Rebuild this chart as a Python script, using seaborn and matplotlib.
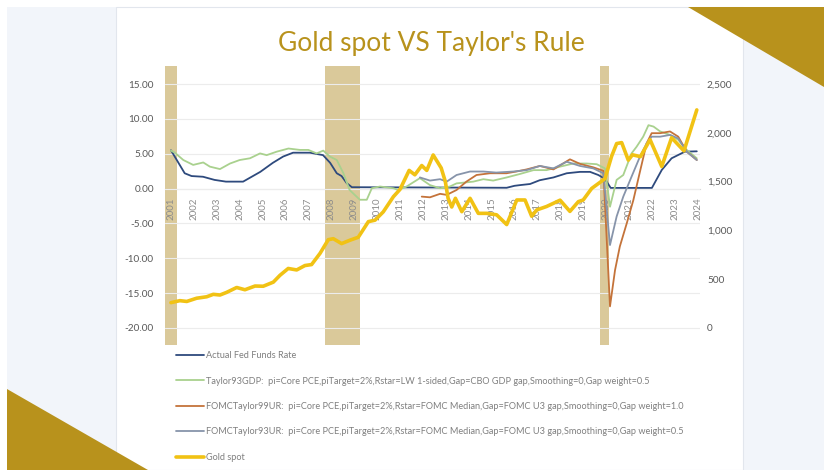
import numpy as np
import pandas as pd
import matplotlib
matplotlib.use("Agg")
import matplotlib.pyplot as plt
import seaborn as sns
from matplotlib.patches import Rectangle, Polygon
from matplotlib.lines import Line2D

# ---------------- data ----------------
fed_years = [2001.0, 2001.6, 2001.9, 2002.4, 2002.9, 2003.4, 2004.15, 2004.9, 2005.45, 2005.9,
             2006.33, 2007.07, 2007.64, 2007.95, 2008.24, 2008.45, 2008.67, 2008.9, 2015.66,
             2016.0, 2016.24, 2016.68, 2017.1, 2017.7, 2018.28, 2018.86, 2019.3, 2019.66,
             2019.95, 2020.2, 2022.0, 2022.43, 2022.86, 2023.44, 2023.96]
fed_rate = [5.5, 2.2, 1.8, 1.7, 1.25, 1.0, 1.0, 2.4, 3.7, 4.6,
            5.15, 5.15, 4.8, 3.7, 2.2, 1.8, 0.8, 0.2, 0.12,
            0.4, 0.5, 0.66, 1.2, 1.6, 2.2, 2.4, 2.4, 1.95,
            1.4, 0.1, 0.1, 2.67, 4.35, 5.3, 5.35]

gdp_years = [2001.0, 2001.17, 2001.54, 2001.97, 2002.41, 2002.7, 2003.14, 2003.58, 2004.0, 2004.45,
             2004.89, 2005.18, 2005.62, 2006.13, 2006.63, 2007.0, 2007.36, 2007.65, 2007.94, 2008.24,
             2008.53, 2008.8, 2009.25, 2009.55, 2009.77, 2010.13, 2010.71, 2010.93, 2011.29, 2011.87,
             2012.31, 2012.75, 2013.18, 2013.47, 2014.2, 2014.64, 2015.07, 2015.66, 2016.24, 2016.83,
             2017.4, 2017.99, 2018.57, 2019.15, 2019.59, 2019.95, 2020.17, 2020.46, 2020.75, 2021.11,
             2021.33, 2021.62, 2021.85, 2022.07, 2022.36, 2022.79, 2023.15, 2023.52, 2023.96]
taylor93gdp = [5.45, 5.15, 4.1, 3.4, 3.75, 3.15, 2.8, 3.6, 4.1, 4.35,
               5.05, 4.8, 5.3, 5.75, 5.55, 5.55, 5.05, 5.45, 4.6, 4.1,
               2.2, -0.2, -1.6, -1.6, 0.05, 0.3, 0.05, -0.2, 0.3, 1.5,
               0.5, 0.05, 0.3, 0.75, 1.0, 1.35, 1.15, 1.6, 2.1, 2.65,
               2.65, 3.15, 3.6, 3.6, 3.5, 2.9, -2.6, 1.25, 1.95, 5.05,
               6.0, 7.45, 9.1, 8.9, 8.2, 7.7, 7.0, 5.55, 4.35]

ur99_years = [2011.95, 2012.31, 2012.75, 2013.04, 2013.47, 2013.9, 2014.34, 2014.93, 2015.65, 2016.08,
              2016.53, 2017.11, 2017.7, 2018.42, 2018.86, 2019.44, 2019.88, 2020.17, 2020.39, 2020.6,
              2020.9, 2021.19, 2021.48, 2021.77, 2021.99, 2022.36, 2022.79, 2023.15, 2023.52, 2023.96]
fomc_taylor99ur = [-1.15, -1.25, -0.75, -0.9, -0.2, 1.0, 1.95, 2.2, 2.2, 2.45,
                   2.75, 3.25, 2.75, 4.2, 3.55, 3.05, 2.55, -16.9, -11.7, -8.3,
                   -5.0, -1.65, 2.45, 6.5, 7.95, 7.95, 8.2, 7.45, 5.3, 4.1]

ur93_years = [2011.87, 2012.31, 2012.75, 2013.04, 2013.47, 2014.06, 2014.64, 2015.2, 2015.95, 2016.53,
              2017.11, 2017.7, 2018.28, 2018.86, 2019.44, 2019.88, 2020.17, 2020.46, 2020.75, 2021.11,
              2021.48, 2021.77, 2021.99, 2022.36, 2022.79, 2023.15, 2023.52, 2023.96]
fomc_taylor93ur = [1.6, 1.15, 1.35, 1.0, 1.95, 2.45, 2.45, 2.3, 2.45, 2.65,
                   3.25, 2.9, 3.85, 3.25, 2.9, 2.2, -8.1, -4.0, -1.15, 1.7,
                   4.6, 6.5, 7.45, 7.45, 7.7, 7.2, 5.3, 4.1]

gold_years = [2001.0, 2001.39, 2001.69, 2002.12, 2002.56, 2002.85, 2003.14, 2003.43, 2003.87, 2004.23,
              2004.67, 2005.03, 2005.47, 2005.76, 2006.12, 2006.49, 2006.85, 2007.14, 2007.51, 2007.87,
              2008.09, 2008.45, 2008.82, 2009.18, 2009.62, 2009.91, 2010.27, 2010.71, 2011.0, 2011.4,
              2011.65, 2011.95, 2012.17, 2012.45, 2012.8, 2012.98, 2013.1, 2013.26, 2013.42, 2013.7,
              2014.06, 2014.42, 2014.79, 2015.22, 2015.66, 2016.1, 2016.46, 2016.75, 2016.97, 2017.4,
              2017.99, 2018.42, 2018.79, 2019.0, 2019.37, 2019.95, 2020.24, 2020.46, 2020.68, 2020.97,
              2021.15, 2021.5, 2021.92, 2022.43, 2022.86, 2023.4, 2023.96]
gold_spot = [260, 280, 272, 305, 320, 345, 338, 365, 415, 392,
             430, 428, 470, 540, 610, 595, 640, 650, 765, 905,
             915, 865, 900, 930, 1090, 1105, 1190, 1345, 1420, 1615,
             1570, 1665, 1615, 1773, 1640, 1500, 1330, 1240, 1329, 1192,
             1329, 1175, 1175, 1160, 1060, 1312, 1312, 1145, 1210, 1245,
             1310, 1195, 1295, 1312, 1430, 1530, 1760, 1890, 1900, 1720,
             1775, 1756, 1930, 1655, 1950, 1815, 2235]

recession_start = [2000.74, 2007.72, 2019.73]
recession_end = [2001.26, 2009.25, 2020.13]

year_ticks = list(range(2001, 2025))
left_ticks = [-20, -15, -10, -5, 0, 5, 10, 15]
right_ticks = [0, 500, 1000, 1500, 2000, 2500]

labels = [
    "Actual Fed Funds Rate",
    "Taylor93GDP:  pi=Core PCE,piTarget=2%,Rstar=LW 1-sided,Gap=CBO GDP gap,Smoothing=0,Gap weight=0.5",
    "FOMCTaylor99UR:  pi=Core PCE,piTarget=2%,Rstar=FOMC Median,Gap=FOMC U3 gap,Smoothing=0,Gap weight=1.0",
    "FOMCTaylor93UR:  pi=Core PCE,piTarget=2%,Rstar=FOMC Median,Gap=FOMC U3 gap,Smoothing=0,Gap weight=0.5",
    "Gold spot",
]
title = "Gold spot VS Taylor's Rule"

# ---------------- style ----------------
sns.set_style("white")
plt.rcParams["font.family"] = ["Lato", "DejaVu Sans"]

C_FED = "#2e4a7d"
C_GDP = "#a9d18e"
C_99 = "#c4733a"
C_93 = "#8794aa"
C_GOLD = "#f1c214"
C_BAR = "#dac99a"
C_DEC = "#b8921c"

W, H = 824, 470
fig = plt.figure(figsize=(W / 100, H / 100), dpi=100, facecolor="white")


def fx(x):
    return x / W


def fy(y):
    return 1 - y / H


# slide background, panel, decorative triangles
fig.add_artist(Rectangle((fx(7), 0), 1 - fx(7), fy(7), transform=fig.transFigure,
                         facecolor="#f2f5fa", edgecolor="none", zorder=-3))
fig.add_artist(Rectangle((fx(116), 0), fx(743) - fx(116), fy(7), transform=fig.transFigure,
                         facecolor="white", edgecolor="#e2e6ed", lw=0.8, zorder=-2))
fig.add_artist(Polygon([(fx(688), fy(7)), (1, fy(7)), (1, fy(87))], closed=True,
                       transform=fig.transFigure, facecolor=C_DEC, edgecolor="none", zorder=5))
fig.add_artist(Polygon([(fx(7), fy(389)), (fx(7), 0), (fx(148), 0)], closed=True,
                       transform=fig.transFigure, facecolor=C_DEC, edgecolor="none", zorder=5))

ax = fig.add_axes([fx(165), fy(345), fx(700) - fx(165), fy(66) - fy(345)])
ax.set_facecolor("none")
ax2 = ax.twinx()
ax2.patch.set_visible(False)

ylo, yhi = -22.44, 17.59
ax.set_ylim(ylo, yhi)
ax2.set_ylim((ylo + 20) * 2500 / 35, (yhi + 20) * 2500 / 35)
ax.set_xlim(2000.74, 2024.1)

# recession bars (below grid and tick labels)
for s, e in zip(recession_start, recession_end):
    ax.axvspan(s, e, color=C_BAR, lw=0, zorder=0.3)

# grid
ax.set_yticks(left_ticks)
ax.grid(axis="y", color="#ececec", lw=0.8)
ax.grid(axis="x", visible=False)
ax.set_axisbelow(True)

# lines
sns.lineplot(x=fed_years, y=fed_rate, ax=ax, color=C_FED, lw=1.3, zorder=3)
sns.lineplot(x=gdp_years, y=taylor93gdp, ax=ax, color=C_GDP, lw=1.3, zorder=3)
sns.lineplot(x=ur99_years, y=fomc_taylor99ur, ax=ax, color=C_99, lw=1.3, zorder=3)
sns.lineplot(x=ur93_years, y=fomc_taylor93ur, ax=ax, color=C_93, lw=1.3, zorder=3)
sns.lineplot(x=gold_years, y=gold_spot, ax=ax2, color=C_GOLD, lw=2.6, zorder=4)
for a in (ax, ax2):
    if a.get_legend() is not None:
        a.get_legend().remove()
    a.set_xlabel("")
    a.set_ylabel("")

# axes formatting
for sp in ("top", "right", "left"):
    ax.spines[sp].set_visible(False)
ax.spines["bottom"].set_position(("data", 0))
ax.spines["bottom"].set_color("#d9d9d9")
ax.spines["bottom"].set_linewidth(0.8)
ax.spines["bottom"].set_zorder(0.5)
for sp in ax2.spines.values():
    sp.set_visible(False)

ax.set_xticks(year_ticks)
ax.set_xticklabels([str(y) for y in year_ticks], rotation=90)
ax.tick_params(axis="x", length=0, pad=6.5, labelsize=7.0, labelcolor="#8c8c8c")
ax.set_yticklabels([f"{v:.2f}" for v in left_ticks])
ax.tick_params(axis="y", length=0, pad=8, labelsize=7.2, labelcolor="#595959")
ax2.set_yticks(right_ticks)
ax2.set_yticklabels([f"{v:,.0f}" for v in right_ticks])
ax2.tick_params(axis="y", length=0, pad=5, labelsize=7.2, labelcolor="#595959")
ax2.grid(False)

# title
fig.text(fx(431), fy(43), title, ha="center", va="center", fontsize=19, color=C_DEC)

# legend
handles = [Line2D([], [], color=C_FED, lw=1.3), Line2D([], [], color=C_GDP, lw=1.3),
           Line2D([], [], color=C_99, lw=1.3), Line2D([], [], color=C_93, lw=1.3),
           Line2D([], [], color=C_GOLD, lw=2.6)]
fig.legend(handles, labels, loc="upper left", bbox_to_anchor=(fx(176), fy(351)),
           frameon=False, fontsize=6.6, labelcolor="#7f7f7f", handlelength=3.0,
           handletextpad=0.3, labelspacing=1.8, borderaxespad=0, borderpad=0)

fig.savefig("out.png", dpi=100, facecolor="white")
